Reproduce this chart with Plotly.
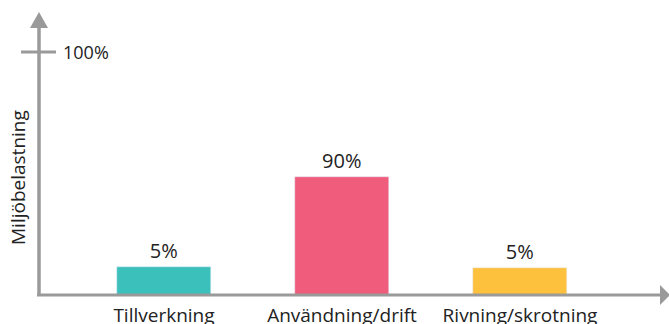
import plotly.graph_objects as go

categories = ["Tillverkning", "Användning/drift", "Rivning/skrotning"]
bar_heights = [11.5, 48.6, 11.1]   # drawn heights on the 0-100% axis
bar_labels = ["5%", "90%", "5%"]
bar_colors = ["#3cc0bc", "#f05c7b", "#fec13e"]
ytick_value = 100
ytick_label = "100%"
ylabel = "Miljöbelastning"

W, H = 669, 324
L, R, T, B = 39, 8, 12, 29
pw, ph = W - L - R, H - T - B
px_x = lambda p: p / pw
px_y = lambda p: p / ph

axis_col = "#9a9a9a"
font = "Open Sans"

fig = go.Figure(go.Bar(
    x=categories, y=bar_heights, marker_color=bar_colors, width=0.53,
    text=bar_labels, textposition="outside", cliponaxis=False,
    textfont=dict(family=font, size=20, color="#222222"),
))

shapes = [
    dict(type="line", xref="paper", yref="paper", x0=0, x1=0, y0=0, y1=1 - px_y(15),
         line=dict(color=axis_col, width=3.5)),
    dict(type="line", xref="paper", yref="paper", x0=px_x(-2), x1=1 - px_x(1), y0=0, y1=0,
         line=dict(color=axis_col, width=3)),
    dict(type="path", xref="paper", yref="paper",
         path=f"M {-px_x(9)} {1 - px_y(16)} L {px_x(9)} {1 - px_y(16)} L 0 1 Z",
         fillcolor=axis_col, line=dict(width=0)),
    dict(type="path", xref="paper", yref="paper",
         path=f"M {1 - px_x(1)} {px_y(10)} L {1 - px_x(1)} {-px_y(10)} L {1 + px_x(9)} 0 Z",
         fillcolor=axis_col, line=dict(width=0)),
    dict(type="line", xref="paper", yref="y", x0=-px_x(18), x1=px_x(17), y0=ytick_value, y1=ytick_value,
         line=dict(color=axis_col, width=3)),
]

annotations = [
    dict(text=ytick_label, xref="paper", yref="y", x=px_x(22), y=ytick_value,
         xanchor="left", yanchor="middle", showarrow=False,
         font=dict(family=font, size=18, color="#222222")),
    dict(text=ylabel, xref="paper", yref="paper", x=-px_x(21), y=px_y(117),
         xanchor="center", yanchor="middle", textangle=-90, showarrow=False,
         font=dict(family=font, size=19, color="#222222")),
]

fig.update_layout(
    width=W, height=H, margin=dict(l=L, r=R, t=T, b=B, autoexpand=False),
    paper_bgcolor="white", plot_bgcolor="white", showlegend=False,
    shapes=shapes, annotations=annotations,
    xaxis=dict(range=[-0.702, 2.792], showline=False, showgrid=False, zeroline=False,
               automargin=False,
               ticks="outside", ticklen=3, tickcolor="rgba(0,0,0,0)",
               tickfont=dict(family=font, size=19, color="#222222")),
    yaxis=dict(range=[0, 116.5], showline=False, showgrid=False, zeroline=False,
               automargin=False, showticklabels=False, ticks=""),
    bargap=0,
)

fig.write_html("out.html")
